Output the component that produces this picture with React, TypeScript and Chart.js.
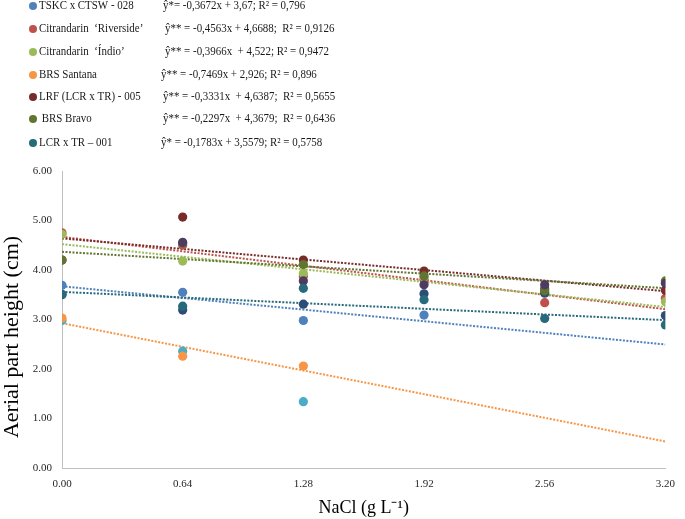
import React, { useEffect, useRef } from "react";
import { Chart, registerables } from "chart.js";

Chart.register(...registerables);

// ---- data ----
const xValues = [0, 0.64, 1.28, 1.92, 2.56, 3.2];
const xTicks = [0, 0.64, 1.28, 1.92, 2.56, 3.2];
const yTicks = [0, 1, 2, 3, 4, 5, 6];

// series in Excel draw order (later ones on top)
const tskc = [3.69, 3.55, 2.98, 3.09, null, null];
const riverside = [4.75, 4.50, 3.87, 3.81, 3.34, 3.43];
const indio = [4.72, 4.18, 3.93, 3.86, 3.55, 3.36];
const aquaSeries = [2.98, 2.36, 1.34, null, null, null];
const santana = [3.03, 2.26, 2.06, null, null, null];
const navySeries = [3.50, 3.19, 3.31, 3.52, 3.53, 3.08];
const lrf = [4.20, 5.07, 4.20, 3.98, 3.62, 3.59];
const bravo = [4.20, 4.54, 4.11, 3.88, 3.58, 3.78];
const purpleSeries = [null, 4.56, 3.78, 3.70, 3.70, 3.73];
const lcr = [3.51, 3.27, 3.63, 3.40, 3.02, 2.89];

const yTitle = "Aerial part height (cm)";
const xTitle = "NaCl (g L\u207b\u00b9)";

const legendNames = [
  "TSKC x CTSW - 028",
  "Citrandarin  \u2018Riverside\u2019",
  "Citrandarin  \u2018\u00cdndio\u2019",
  "BRS Santana",
  "LRF (LCR x TR) - 005",
  " BRS Bravo",
  "LCR x TR \u2013 001",
];
const equations = [
  "\u0177*= -0,3672x + 3,67; R\u00b2 = 0,796",
  "\u0177** = -0,4563x + 4,6688;  R\u00b2 = 0,9126",
  "\u0177** = -0,3966x  + 4,522; R\u00b2 = 0,9472",
  "\u0177** = -0,7469x + 2,926; R\u00b2 = 0,896",
  "\u0177** = -0,3331x  + 4,6387;  R\u00b2 = 0,5655",
  "\u0177** = -0,2297x  + 4,3679;  R\u00b2 = 0,6436",
  "\u0177* = -0,1783x + 3,5579; R\u00b2 = 0,5758",
];
const slopes = [-0.3672, -0.4563, -0.3966, -0.7469, -0.3331, -0.2297, -0.1783];
const intercepts = [3.67, 4.6688, 4.522, 2.926, 4.6387, 4.3679, 3.5579];

const C = {
  blue: "#4f81bd",
  red: "#c0504d",
  green: "#9bbb59",
  aqua: "#4bacc6",
  orange: "#f79646",
  navy: "#2c4d75",
  darkRed: "#772c2a",
  darkGreen: "#5f7530",
  darkPurple: "#4d3b62",
  darkAqua: "#276a7c",
};
const legendColors = [C.blue, C.red, C.green, C.orange, C.darkRed, C.darkGreen, C.darkAqua];

// ---- layout constants ----
const legendY = [6, 29, 52, 75, 97, 119, 143];
const eqX = [163, 165, 165, 161, 163, 163, 161];
const textScaleX = 0.84;

const legendPlugin = {
  id: "customLegend",
  afterDraw(chart: any) {
    const ctx = chart.ctx;
    ctx.save();
    ctx.textBaseline = "middle";
    ctx.font = '13px "Liberation Serif"';
    legendNames.forEach((name, i) => {
      const y = legendY[i];
      ctx.fillStyle = legendColors[i];
      ctx.beginPath();
      ctx.arc(33, y, 4, 0, Math.PI * 2);
      ctx.fill();
      ctx.fillStyle = "#1a1a1a";
      ctx.save();
      ctx.translate(39, y);
      ctx.scale(textScaleX, 1);
      ctx.fillText(name, 0, 0);
      ctx.restore();
      ctx.save();
      ctx.translate(eqX[i], y);
      ctx.scale(textScaleX, 1);
      ctx.fillText(equations[i], 0, 0);
      ctx.restore();
    });
    // y axis title
    ctx.save();
    ctx.translate(12, 337);
    ctx.rotate(-Math.PI / 2);
    ctx.textAlign = "center";
    ctx.textBaseline = "middle";
    ctx.fillStyle = "#000";
    ctx.font = '22px "Liberation Serif"';
    ctx.fillText(yTitle, 0, 0);
    ctx.restore();
    ctx.restore();
  },
};

function pts(vals: (number | null)[]) {
  return xValues.map((x, i) => ({ x, y: vals[i] }));
}

export default function App() {
  const ref = useRef<HTMLCanvasElement | null>(null);
  useEffect(() => {
    if (!ref.current) return;
    const scatterSeries: [(number | null)[], string][] = [
      [tskc, C.blue],
      [riverside, C.red],
      [indio, C.green],
      [aquaSeries, C.aqua],
      [santana, C.orange],
      [navySeries, C.navy],
      [lrf, C.darkRed],
      [bravo, C.darkGreen],
      [purpleSeries, C.darkPurple],
      [lcr, C.darkAqua],
    ];
    const datasets: any[] = [];
    scatterSeries.forEach(([vals, color], i) => {
      datasets.push({
        type: "scatter",
        data: pts(vals),
        backgroundColor: color,
        borderColor: color,
        borderWidth: 0,
        pointRadius: 4.6,
        order: 100 - i,
      });
    });
    slopes.forEach((m, i) => {
      datasets.push({
        type: "line",
        data: [
          { x: 0, y: intercepts[i] },
          { x: 3.2, y: intercepts[i] + m * 3.2 },
        ],
        borderColor: legendColors[i],
        borderWidth: 2,
        borderDash: [2, 1.5],
        pointRadius: 0,
        fill: false,
        order: 200 - i,
      });
    });
    const chart = new Chart(ref.current, {
      type: "scatter",
      data: { datasets },
      options: {
        animation: false,
        responsive: false,
        layout: { padding: { top: 171, right: 10, left: 0, bottom: 0 } },
        plugins: { legend: { display: false }, tooltip: { enabled: false } },
        scales: {
          x: {
            type: "linear",
            min: 0,
            max: 3.2,
            afterBuildTicks: (s: any) => {
              s.ticks = xTicks.map((v) => ({ value: v }));
            },
            afterFit: (s: any) => {
              s.height = 51;
            },
            grid: { display: false, drawTicks: false },
            border: { display: true, color: "#bfbfbf", width: 1 },
            ticks: {
              padding: 10,
              color: "#262626",
              font: { family: '"Liberation Serif"', size: 11 },
              callback: (v: any) => Number(v).toFixed(2),
              maxRotation: 0,
            },
            title: {
              display: true,
              text: xTitle,
              color: "#000",
              font: { family: '"Liberation Serif"', size: 18 },
              padding: { top: 4, bottom: 0 },
            },
          },
          y: {
            type: "linear",
            min: 0,
            max: 6,
            afterBuildTicks: (s: any) => {
              s.ticks = yTicks.map((v) => ({ value: v }));
            },
            afterFit: (s: any) => {
              s.width = 62;
            },
            grid: { display: false, drawTicks: false },
            border: { display: true, color: "#bfbfbf", width: 1 },
            ticks: {
              padding: 10,
              color: "#262626",
              font: { family: '"Liberation Serif"', size: 11 },
              callback: (v: any) => Number(v).toFixed(2),
            },
            title: { display: false },
          },
        },
      },
      plugins: [legendPlugin],
    });
    return () => chart.destroy();
  }, []);
  return (
    <div style={{ position: "fixed", left: 0, top: 0, width: 685, height: 519, background: "#fff" }}>
      <canvas ref={ref} width={685} height={519} style={{ display: "block" }} />
    </div>
  );
}
